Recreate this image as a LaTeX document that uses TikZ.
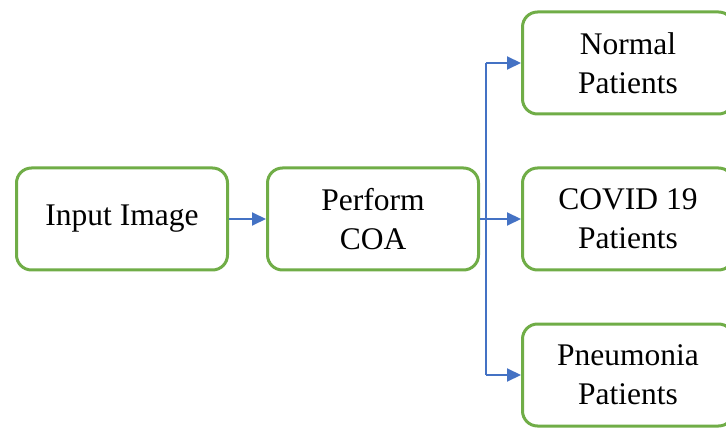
\documentclass[tikz,border=0pt]{standalone}
\usepackage{fontspec}
\setmainfont{Liberation Serif}
\newfontfamily\boxfont{Liberation Serif}
\usetikzlibrary{positioning, arrows.meta}
\definecolor{boxgreen}{RGB}{112, 173, 71}
\definecolor{flowblue}{RGB}{68, 114, 196}
\tikzset{
    stepbox/.style={rectangle, rounded corners=7.5pt, draw=boxgreen, line width=1.5pt, fill=white, minimum width=105.5pt, minimum height=51pt, align=center, font=\boxfont\fontsize{15.75}{19.5}\selectfont},
    flow/.style={draw=flowblue, line width=1pt, -{Triangle[length=7pt, width=6.5pt]}},
    branch/.style={draw=flowblue, line width=0.6pt}
}

\begin{document}
\begin{tikzpicture}[x=0.5pt, y=0.5pt, node distance=18.5pt]
    \useasboundingbox (0,0) rectangle (726,428);
    \node[stepbox] (input) at (122,209) {Input Image};
    \node[stepbox, right=of input] (coa) {Perform\\COA};
    \node[stepbox, right=20.5pt of coa] (covid) {COVID 19\\Patients};
    \node[stepbox, above=25.5pt of covid] (normal) {Normal\\Patients};
    \node[stepbox, below=25.5pt of covid] (pneu) {Pneumonia\\Patients};
    \coordinate[right=3pt of coa] (split);
    \draw[flow] (input) -- (coa);
    \draw[flow] (coa) -- (covid);
    \draw[branch] (split |- normal) -- (split |- pneu);
    \draw[flow] (split |- normal) -- (normal);
    \draw[flow] (split |- pneu) -- (pneu);
\end{tikzpicture}
\end{document}
